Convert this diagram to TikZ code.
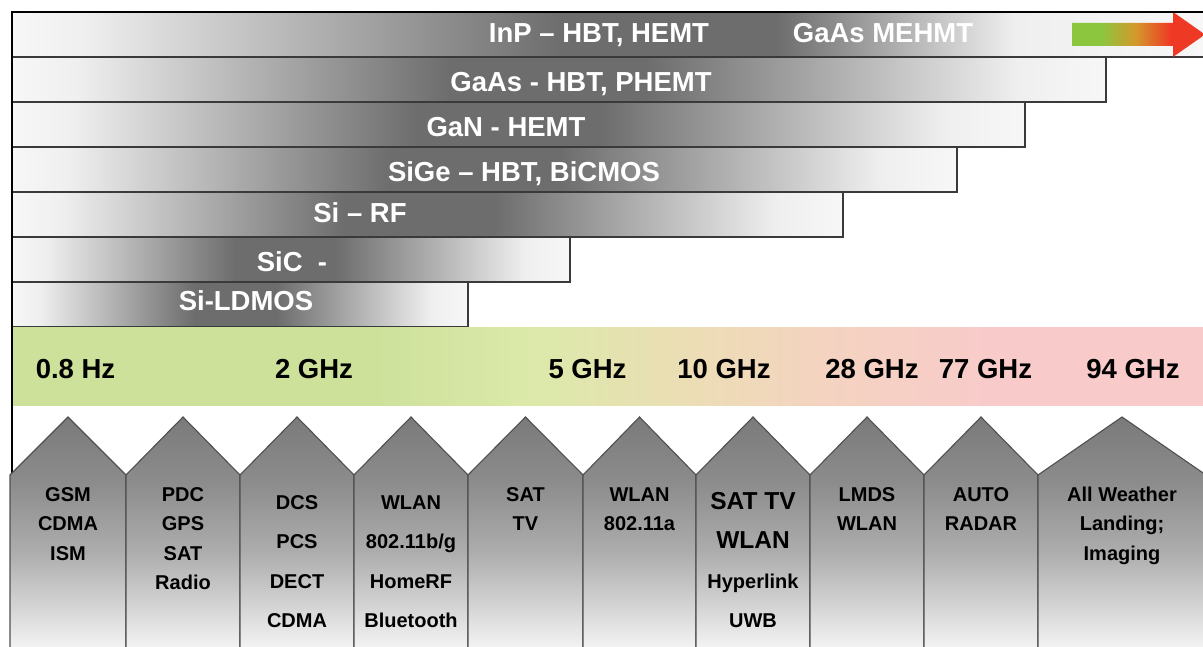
\documentclass[tikz,border=0pt]{standalone}
\usepackage{fontspec}
\setmainfont{Liberation Sans}
\definecolor{barlight}{HTML}{F7F7F7}
\definecolor{barfade}{HTML}{EFEFEF}
\definecolor{bardark}{HTML}{6D6D6D}
\definecolor{baredge}{HTML}{3A3A3A}
\definecolor{houseedge}{HTML}{505050}
\definecolor{housetop}{HTML}{7A7A7A}
\definecolor{houseupper}{HTML}{8C8C8C}
\definecolor{housemid}{HTML}{ADADAD}
\definecolor{houselow}{HTML}{D2D2D2}
\definecolor{housebot}{HTML}{F5F5F5}
\definecolor{bandgreen}{HTML}{CDE19B}
\definecolor{bandlime}{HTML}{DCE9AA}
\definecolor{bandtan}{HTML}{EDDCB6}
\definecolor{bandpeach}{HTML}{F4D3C0}
\definecolor{bandpink}{HTML}{F8CBCA}
\definecolor{trendgreen}{HTML}{8CC63F}
\definecolor{trendgold}{HTML}{D4982C}
\definecolor{trendred}{HTML}{EE3A24}
\pgfdeclarehorizontalshading{barshade}{100bp}{color(0bp)=(barlight); color(25bp)=(barlight); color(28bp)=(barfade); color(45bp)=(bardark); color(54bp)=(bardark); color(71bp)=(barfade); color(75bp)=(barlight); color(100bp)=(barlight)}
\pgfdeclarehorizontalshading{topbarshade}{100bp}{color(0bp)=(barlight); color(25bp)=(barlight); color(28bp)=(barfade); color(48bp)=(bardark); color(57bp)=(bardark); color(67bp)=(barfade); color(75bp)=(barlight); color(100bp)=(barlight)}
\pgfdeclarehorizontalshading{bandshade}{100bp}{color(0bp)=(bandgreen); color(40bp)=(bandgreen); color(47bp)=(bandlime); color(54bp)=(bandtan); color(59bp)=(bandpeach); color(66bp)=(bandpink); color(100bp)=(bandpink)}
\pgfdeclarehorizontalshading{trendshade}{100bp}{color(0bp)=(trendgreen); color(36bp)=(trendgreen); color(49bp)=(trendgold); color(62bp)=(trendred); color(100bp)=(trendred)}
\pgfdeclareverticalshading{houseshade}{100bp}{color(0bp)=(housebot); color(25bp)=(housebot); color(35bp)=(houselow); color(46bp)=(housemid); color(61bp)=(houseupper); color(75bp)=(housetop); color(100bp)=(housetop)}
\newcommand{\houselarge}{\fontsize{24.5}{28}\selectfont}

\begin{document}
\begin{tikzpicture}[x=1pt, y=-1pt,
  barbox/.style={draw=baredge, line width=1.3pt, shading=#1},
  barbox/.default=barshade,
  housebox/.style={draw=houseedge, line width=1.1pt, shading=houseshade},
  bartext/.style={font=\fontsize{27.5}{30}\selectfont\bfseries, text=white, anchor=base, inner sep=0pt},
  freqtext/.style={bartext, text=black},
  housetext/.style={font=\fontsize{20}{24}\selectfont\bfseries, text=black, anchor=base, inner sep=0pt},
  frameline/.style={line width=2.6pt, black}
]
\useasboundingbox (0,0) rectangle (1203,647);

% technology bars
\draw[barbox=topbarshade] (12,12) rectangle (1206,57);
\foreach \xr/\ya in {1106/57, 1025/102, 957/147, 843/192, 570/237, 468/282}
  \draw[barbox] (12,\ya) rectangle (\xr,\ya+45);

% trend arrow
\path[shading=trendshade] (1072,23) -- (1173,23) -- (1173,12) -- (1205,34.5)
  -- (1173,57) -- (1173,46) -- (1072,46) -- cycle;

\node[bartext] (inp) at (599,43) {InP -- HBT, HEMT};
\node[bartext] (mehmt) at (883,43) {GaAs MEHMT};
\node[bartext] (gaas) at (581,91.5) {GaAs - HBT, PHEMT};
\node[bartext] (gan) at (506,136.5) {GaN - HEMT};
\node[bartext] (sige) at (524,181.5) {SiGe -- HBT, BiCMOS};
\node[bartext] (sirf) at (360,223) {Si -- RF};
\node[bartext] (sic) at (292,271.5) {SiC\ \ -};
\node[bartext] (ldmos) at (246,310.5) {Si-LDMOS};

% frequency band
\path[shading=bandshade] (12,327) rectangle (1206,405);
\foreach \fx/\ft [count=\i] in {75.5/0.8 Hz, 314/2 GHz, 587.5/5 GHz, 724/10 GHz, 872/28 GHz, 985.5/77 GHz, 1133/94 GHz}
  \node[freqtext] (f\i) at (\fx,378) {\ft};

\draw[frameline] (12,473) -- (12,12) -- (1206,12);

% applications
\foreach \xl/\xr/\ytop/\ystep/\lines [count=\h] in {
  10/126/501.2/29.5/{GSM,CDMA,ISM},
  126/240/501.2/29.5/{PDC,GPS,SAT,Radio},
  240/354/509.2/39.5/{DCS,PCS,DECT,CDMA},
  354/468/509.2/39.5/{WLAN,802.11b/g,HomeRF,Bluetooth},
  468/583/501.2/29.5/{SAT,TV},
  583/696/501.2/29.5/{WLAN,802.11a},
  696/810/509.2/39.5/{\houselarge SAT TV,\houselarge WLAN,Hyperlink,UWB},
  810/924/501.2/29.5/{LMDS,WLAN},
  924/1038/501.2/29.5/{AUTO,RADAR},
  1038/1206/501.2/29.5/{All Weather,Landing;,Imaging}}{
  \draw[housebox] (\xl,475) -- ({(\xl+\xr)/2},417) -- (\xr,475) -- (\xr,650) -- (\xl,650) -- cycle;
  \foreach \t [count=\i] in \lines
    \node[housetext] (h\h-\i) at ({(\xl+\xr)/2},{\ytop+\ystep*(\i-1)}) {\t};
}
\end{tikzpicture}
\end{document}
